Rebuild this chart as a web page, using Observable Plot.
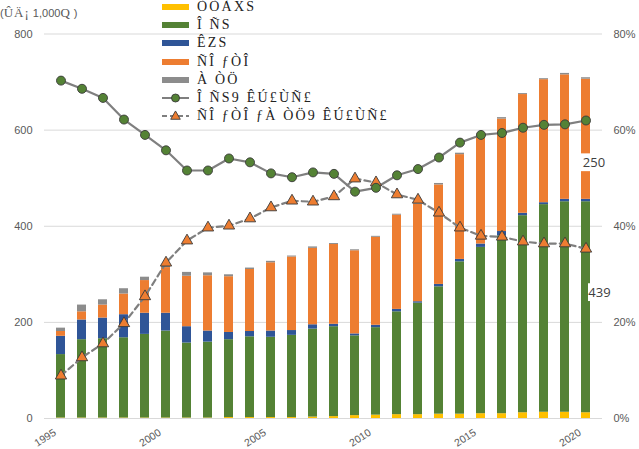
<!DOCTYPE html>
<html>
<head>
<meta charset="utf-8">
<script src="https://cdn.jsdelivr.net/npm/d3@7"></script>
<script src="https://cdn.jsdelivr.net/npm/@observablehq/plot@0.6"></script>
<style>
  body { margin: 0; background: #fff; }
  #wrap { position: relative; width: 639px; height: 449px; overflow: hidden; font-family: "Liberation Sans", Arial, sans-serif; }
  #unit { position: absolute; left: 0; top: 5px; font-size: 11px; color: #595959; white-space: pre; }
  #unit .mj { font-family: "Liberation Serif", serif; font-size: 13px; letter-spacing: 1px; }
  #legend { position: absolute; left: 162px; top: -2px; }
  .item { display: flex; align-items: center; height: 18.2px; }
  .item svg { flex: none; margin-right: 4px; }
  .item span { font-family: "Liberation Serif", serif; font-size: 14px; letter-spacing: 2.2px; color: #222; white-space: pre; }
</style>
</head>
<body>
<div id="wrap">
  <div id="chart"></div>
  <div id="unit">(<span class="mj">ÛÄ¡</span> 1,000<span class="mj">Q</span> )</div>
  <div id="legend"></div>
</div>
<script>
// Years on the x axis
const years = [1995, 1996, 1997, 1998, 1999, 2000, 2001, 2002, 2003, 2004, 2005, 2006, 2007,
               2008, 2009, 2010, 2011, 2012, 2013, 2014, 2015, 2016, 2017, 2018, 2019, 2020];
const tickYears = [1995, 2000, 2005, 2010, 2015, 2020];

// Stacked series (1,000 units), bottom to top
const seriesNames = ["ÒÒÀXS", "Î ÑS", "ÊZS", "ÑÎ ƒÒÎ", "À ÒÖ"];
const yellowVals = [1, 1, 1, 1, 1, 1, 1, 1, 2, 2, 2, 2, 3, 4, 6, 7, 8, 8, 9, 9, 10, 10, 12, 13, 13, 12];
const greenVals  = [132, 163, 165, 167, 174, 181, 156, 158, 162, 168, 167, 171, 183, 187, 166, 182,
                    214, 232, 265, 317, 346, 370, 410, 432, 438, 439];
const blueVals   = [38, 41, 43, 48, 44, 37, 34, 23, 15, 11, 13, 10, 9, 5, 4, 5, 5, 3, 5, 5, 7, 9, 5, 4, 5, 5];
const orangeVals = [10, 17, 27, 43, 68, 95, 105, 115, 116, 129, 142, 153, 159, 166, 173, 183,
                    196, 203, 207, 218, 227, 234, 247, 256, 259, 250];
const grayVals   = [7, 14, 11, 11, 7, 3, 8, 6, 4, 3, 3, 2, 3, 2, 2, 2, 2, 4, 3, 3, 2, 3, 2, 2, 3, 3];

// Share lines (%)
const lineNames = ["Î ÑS9 ÊÚ£ÙÑ£", "ÑÎ ƒÒÎ ƒÀ ÒÖ9 ÊÚ£ÙÑ£"];
const greenShare  = [70.3, 68.6, 66.7, 62.2, 59.0, 55.8, 51.6, 51.6, 54.1, 53.3, 51.0, 50.2, 51.2,
                     50.9, 47.2, 48.0, 50.6, 51.9, 54.3, 57.4, 59.0, 59.4, 60.5, 61.1, 61.2, 62.0];
const orangeShare = [8.9, 12.7, 15.6, 19.8, 25.4, 32.4, 37.0, 39.7, 40.1, 41.6, 43.9, 45.3, 45.1,
                     46.2, 49.9, 49.1, 46.6, 45.5, 42.8, 39.7, 38.0, 37.8, 36.8, 36.4, 36.4, 35.3];

const colors = ["#FFC000", "#548235", "#2F5597", "#ED7D31", "#8C8C8C"];
const lineGray = "#7F7F7F";
const yTicks = [0, 200, 400, 600, 800];

// Long table for the stack
const stackVals = [yellowVals, greenVals, blueVals, orangeVals, grayVals];
const table = [];
seriesNames.forEach((s, i) => years.forEach((yr, j) => table.push({year: yr, series: s, value: stackVals[i][j]})));

// Share lines, mapped onto the 0–800 axis (80% ↔ 800)
const greenLine  = years.map((yr, j) => ({year: yr, v: greenShare[j] * 10}));
const orangeLine = years.map((yr, j) => ({year: yr, v: orangeShare[j] * 10}));

// Value labels on the last bar
const last = years.length - 1;
const labelOrange = [{year: 2020, value: orangeVals[last],
  mid: yellowVals[last] + greenVals[last] + blueVals[last] + orangeVals[last] / 2}];
const labelGreen = [{year: 2020, value: greenVals[last], mid: yellowVals[last] + greenVals[last] / 2}];
const boxHalf = 18.5;

const labelStyle = {fontFamily: "'Open Sans', sans-serif", fontSize: 13, fill: "#404040"};

const chart = Plot.plot({
  width: 639,
  height: 449,
  marginTop: 33.5,
  marginBottom: 31,
  marginLeft: 44,
  marginRight: 37,
  style: {fontFamily: "'Liberation Sans', Arial, sans-serif", fontSize: "11px", color: "#595959", background: "transparent"},
  x: {type: "band", domain: years, paddingInner: 0.58, paddingOuter: 0.3, label: null},
  y: {domain: [0, 800], label: null},
  color: {domain: seriesNames, range: colors},
  marks: [
    Plot.gridY(yTicks, {stroke: "#D9D9D9", strokeOpacity: 1, strokeWidth: 1}),
    Plot.barY(table, {x: "year", y: "value", fill: "series"}),
    // white boxes behind the value labels
    Plot.barY(labelOrange, {x: "year", y1: d => d.mid - boxHalf, y2: d => d.mid + boxHalf, fill: "white",
      insetLeft: -2, insetRight: -17, dy: 23.5}),
    Plot.barY(labelGreen, {x: "year", y1: d => d.mid - boxHalf, y2: d => d.mid + boxHalf, fill: "white",
      insetLeft: 7, insetRight: -20, dy: -14.6}),
    Plot.text(labelOrange, {x: "year", y: "mid", text: d => String(d.value), dx: 8, dy: 23.5, ...labelStyle}),
    Plot.text(labelGreen, {x: "year", y: "mid", text: d => String(d.value), dx: 13.5, dy: -14.6, ...labelStyle}),
    Plot.line(orangeLine, {x: "year", y: "v", stroke: lineGray, strokeWidth: 2.2, strokeDasharray: "6,4"}),
    Plot.line(greenLine, {x: "year", y: "v", stroke: lineGray, strokeWidth: 2.2}),
    Plot.dot(orangeLine, {x: "year", y: "v", symbol: "triangle", r: 4.2, fill: "#ED7D31", stroke: "#3A3A3A", strokeWidth: 0.9}),
    Plot.dot(greenLine, {x: "year", y: "v", r: 4.5, fill: "#548235", stroke: "#3A3A3A", strokeWidth: 0.9}),
    Plot.axisY(yTicks, {anchor: "left", tickSize: 0, tickPadding: 12, label: null, fontSize: 11}),
    Plot.axisY(yTicks, {anchor: "right", tickSize: 0, tickPadding: 11, label: null, fontSize: 11,
      tickFormat: d => d / 10 + "%"}),
    Plot.axisX(tickYears, {tickSize: 0, tickPadding: 0, tickRotate: -33, label: null, fontSize: 10.5,
      textAnchor: "end", dx: -6, dy: 13, tickFormat: d => String(d)})
  ]
});
document.getElementById("chart").appendChild(chart);

// Legend overlay
const legend = d3.select("#legend");
seriesNames.forEach((s, i) => {
  const row = legend.append("div").attr("class", "item");
  const sv = row.append("svg").attr("width", 31).attr("height", 10);
  sv.append("rect").attr("x", 0).attr("y", 2).attr("width", 27).attr("height", 6).attr("fill", colors[i]);
  row.append("span").text(s);
});
[
  {name: lineNames[0], dash: null, sym: "circle"},
  {name: lineNames[1], dash: "5,3", sym: "triangle"}
].forEach(d => {
  const row = legend.append("div").attr("class", "item");
  const sv = row.append("svg").attr("width", 31).attr("height", 14);
  sv.append("line").attr("x1", 0).attr("x2", 27).attr("y1", 7).attr("y2", 7)
    .attr("stroke", lineGray).attr("stroke-width", 2).attr("stroke-dasharray", d.dash);
  if (d.sym === "circle") {
    sv.append("circle").attr("cx", 13.5).attr("cy", 7).attr("r", 4).attr("fill", "#548235").attr("stroke", "#3A3A3A").attr("stroke-width", 0.9);
  } else {
    sv.append("path").attr("d", d3.symbol(d3.symbolTriangle, 40)()).attr("transform", "translate(13.5,7.5)")
      .attr("fill", "#ED7D31").attr("stroke", "#3A3A3A").attr("stroke-width", 0.9);
  }
  row.append("span").text(d.name);
});
</script>
</body>
</html>
